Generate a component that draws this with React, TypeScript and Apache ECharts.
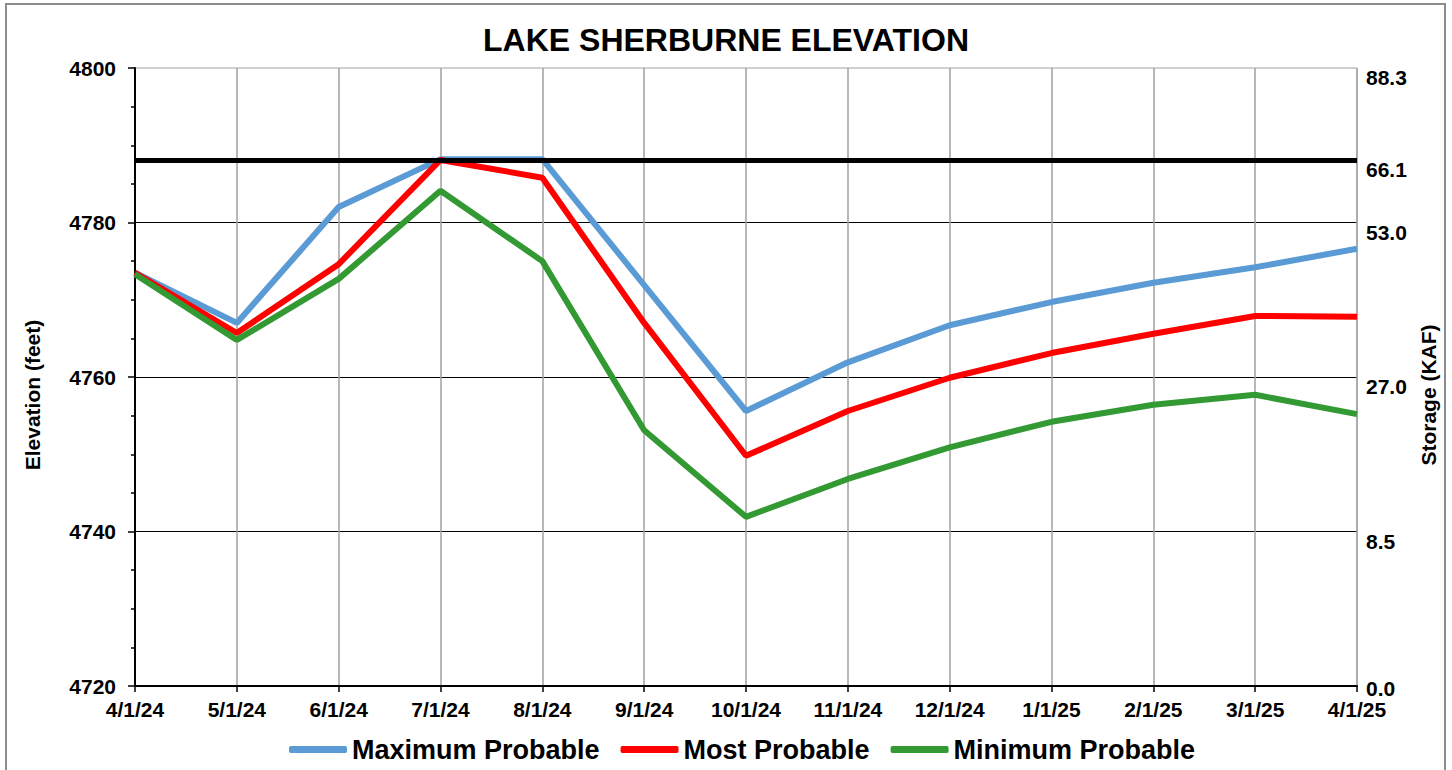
import React, { useEffect, useRef } from "react";
import * as echarts from "echarts";

const dates = ["4/1/24","5/1/24","6/1/24","7/1/24","8/1/24","9/1/24","10/1/24","11/1/24","12/1/24","1/1/25","2/1/25","3/1/25","4/1/25"];
const maxProbable = [4773.5, 4767.0, 4782.0, 4788.2, 4788.2, 4771.9, 4755.6, 4761.9, 4766.7, 4769.7, 4772.2, 4774.2, 4776.6];
const mostProbable = [4773.5, 4765.7, 4774.6, 4788.1, 4785.8, 4767.0, 4749.8, 4755.6, 4759.9, 4763.1, 4765.6, 4767.9, 4767.8];
const minProbable = [4773.3, 4764.8, 4772.7, 4784.1, 4775.0, 4753.1, 4741.9, 4746.8, 4750.9, 4754.2, 4756.4, 4757.7, 4755.2];
const fullPool = 4788.1;
const storageElev = [4800, 4788.1, 4780, 4760, 4740, 4720];
const storageLabels = ["88.3", "66.1", "53.0", "27.0", "8.5", "0.0"];

const FONT = "Liberation Sans, Arial, sans-serif";

export default function App() {
  const ref = useRef<HTMLDivElement>(null);
  useEffect(() => {
    if (!ref.current) return;
    const chart = echarts.init(ref.current, null, { renderer: "svg" });
    const lineSeries = (name: string, data: number[], color: string, z: number) => ({
      name,
      type: "line",
      data,
      yAxisIndex: 0,
      symbol: "none",
      z,
      lineStyle: { color, width: 6 },
      itemStyle: { color },
    });
    const labelText = { fontFamily: FONT, fontWeight: "bold" as const, fontSize: 21, color: "#000" };
    chart.setOption({
      animation: false,
      backgroundColor: "#ffffff",
      textStyle: { fontFamily: FONT },
      title: {
        text: "LAKE SHERBURNE ELEVATION",
        left: "center",
        top: 19,
        textStyle: { fontFamily: FONT, fontWeight: "bold", fontSize: 32, color: "#000" },
      },
      graphic: [
        {
          type: "rect",
          shape: { x: 6, y: 4, width: 1439, height: 780 },
          style: { fill: "none", stroke: "#8c8c8c", lineWidth: 2 },
          silent: true,
          z: -1,
        },
      ],
      legend: {
        left: 289,
        top: 736,
        padding: 0,
        itemWidth: 58,
        itemHeight: 7,
        itemGap: 21,
        icon: "roundRect",
        textStyle: { fontFamily: FONT, fontWeight: "bold", fontSize: 27, color: "#000" },
        data: ["Maximum Probable", "Most Probable", "Minimum Probable"],
      },
      grid: {
        left: 135,
        right: 95,
        top: 68,
        bottom: 84,
        show: true,
        borderColor: "#a0a0a0",
        borderWidth: 1,
        containLabel: false,
      },
      xAxis: {
        type: "category",
        data: dates,
        boundaryGap: false,
        axisLine: { lineStyle: { color: "#000", width: 2 } },
        axisTick: { show: true, length: 6, lineStyle: { color: "#000", width: 1.5 } },
        axisLabel: { ...labelText, margin: 13 },
        splitLine: { show: true, lineStyle: { color: "#a0a0a0", width: 1.5 } },
      },
      yAxis: [
        {
          type: "value",
          min: 4720,
          max: 4800,
          interval: 20,
          name: "Elevation (feet)",
          nameLocation: "middle",
          nameGap: 92,
          nameRotate: 90,
          nameTextStyle: { ...labelText, padding: [0, 36, 0, 0] },
          axisLine: { show: true, lineStyle: { color: "#000", width: 2 } },
          axisTick: { show: true, length: 7, lineStyle: { color: "#000", width: 1.5 } },
          minorTick: { show: true, splitNumber: 4, length: 4, lineStyle: { color: "#000", width: 1.5 } },
          axisLabel: { ...labelText, margin: 19, formatter: (v: number) => String(v) },
          splitLine: { show: true, showMaxLine: false, showMinLine: false, lineStyle: { color: "#000", width: 1.2 } },
        },
        {
          type: "value",
          position: "right",
          min: 4720,
          max: 4800,
          name: "Storage (KAF)",
          nameLocation: "middle",
          nameGap: 42,
          nameRotate: 90,
          nameTextStyle: { ...labelText, padding: [0, 36, 0, 0] },
          axisLine: { show: false },
          axisTick: { show: false },
          splitLine: { show: false },
          axisLabel: {
            show: true,
            customValues: storageElev,
            showMinLabel: true,
            showMaxLabel: true,
            ...labelText,
            margin: 9,
            verticalAlign: "middle",
            rich: {
              a: { ...labelText, lineHeight: 20, padding: [19, 0, 0, 0] },
              b: { ...labelText, lineHeight: 18, padding: [4, 0, 0, 0] },
            },
            formatter: (v: number) => {
              const i = storageElev.findIndex((e) => Math.abs(e - v) < 0.05);
              if (i < 0) return "";
              return i === storageElev.length - 1 ? `{b|${storageLabels[i]}}` : `{a|${storageLabels[i]}}`;
            },
          },
        },
      ],
      series: [
        {
          ...lineSeries("Maximum Probable", maxProbable, "#5b9bd5", 2),
          markLine: {
            silent: true,
            symbol: "none",
            label: { show: false },
            lineStyle: { color: "#000", width: 5, type: "solid" },
            data: [{ yAxis: fullPool }],
          },
        },
        lineSeries("Most Probable", mostProbable, "#ff0000", 4),
        lineSeries("Minimum Probable", minProbable, "#339933", 5),
      ],
    });
    return () => chart.dispose();
  }, []);
  return (
    <div
      ref={ref}
      style={{ position: "fixed", left: 0, top: 0, width: 1452, height: 770, background: "#fff" }}
    />
  );
}
